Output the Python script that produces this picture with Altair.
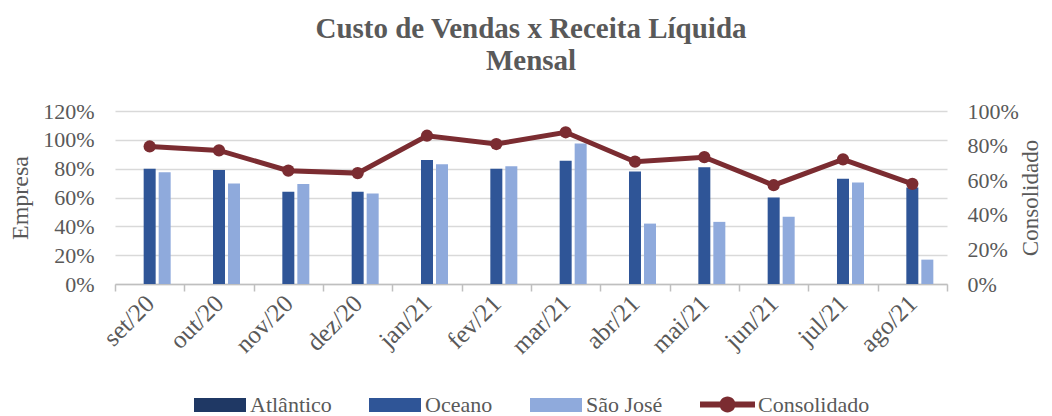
import altair as alt
import pandas as pd

months = ["set/20", "out/20", "nov/20", "dez/20", "jan/21", "fev/21",
          "mar/21", "abr/21", "mai/21", "jun/21", "jul/21", "ago/21"]
bar_series = ["Atlântico", "Oceano", "São José"]
atlantico = [None] * 12
oceano = [0.80, 0.79, 0.64, 0.64, 0.86, 0.80, 0.855, 0.78, 0.81, 0.60, 0.73, 0.67]
sao_jose = [0.776, 0.697, 0.693, 0.628, 0.83, 0.816, 0.974, 0.419, 0.431, 0.466, 0.704, 0.169]
consolidado = [0.795, 0.772, 0.655, 0.641, 0.857, 0.809, 0.877, 0.707, 0.733, 0.571, 0.72, 0.579]
left_ticks = [0, 0.2, 0.4, 0.6, 0.8, 1.0, 1.2]
right_ticks = [0, 0.2, 0.4, 0.6, 0.8, 1.0]

rows = []
for i, m in enumerate(months):
    for s, vals in zip(bar_series, [atlantico, oceano, sao_jose]):
        if vals[i] is not None:
            rows.append({"mes": m, "serie": s, "valor": vals[i]})
bars_df = pd.DataFrame(rows)
line_df = pd.DataFrame({"mes": months, "serie": ["Consolidado"] * 12, "valor": consolidado})

FONT = "Liberation Serif"
GRAY = "#595959"
RED = "#7B2C31"
BAR_COLORS = ["#1F3864", "#2F5597", "#8FAADC"]
RECT_PATH = "M-1,-0.27H1V0.27H-1Z"
LINE_PATH = ("M-1,-0.11H1V0.11H-1Z "
             "M-0.29,0A0.29,0.29 0 1,1 0.29,0A0.29,0.29 0 1,1 -0.29,0Z")

x_enc = alt.X(
    "mes:N", sort=months,
    scale=alt.Scale(paddingInner=0, paddingOuter=0),
    axis=alt.Axis(
        title=None, labelAngle=315, labelAlign="right", labelBaseline="middle",
        labelFont=FONT, labelFontSize=25, labelColor=GRAY, labelPadding=8,
        tickBand="extent", ticks=True, tickSize=7, tickColor="#BFBFBF", tickWidth=1.5,
        domainColor="#BFBFBF", domainWidth=1.5, grid=False,
    ),
)

bars = alt.Chart(bars_df).mark_bar().encode(
    x=x_enc,
    xOffset=alt.XOffset("serie:N", scale=alt.Scale(domain=bar_series, paddingInner=0.2, paddingOuter=0.911)),
    y=alt.Y("valor:Q", scale=alt.Scale(domain=[0, 1.2], nice=False),
            axis=alt.Axis(orient="left", values=left_ticks, format=".0%", title="Empresa",
                          grid=True, gridColor="#D9D9D9", gridWidth=1.5, domain=False,
                          ticks=False, tickSize=0, labelPadding=21, labelOverlap=False,
                          labelFont=FONT, labelFontSize=22, labelColor=GRAY,
                          titleFont=FONT, titleFontSize=24, titleFontWeight="normal",
                          titleColor=GRAY, titlePadding=10)),
    color=alt.Color("serie:N", scale=alt.Scale(domain=bar_series, range=BAR_COLORS),
                    legend=alt.Legend(title=None, orient="none", legendX=79, legendY=268,
                                      direction="horizontal", columns=3, padding=0,
                                      symbolType=RECT_PATH, symbolSize=2704,
                                      symbolStrokeWidth=0, symbolOpacity=1,
                                      labelFont=FONT, labelFontSize=22, labelColor=GRAY,
                                      labelOffset=4, columnPadding=37)),
)

right_axis = alt.Axis(orient="right", values=right_ticks, format=".0%", title="Consolidado",
                      grid=False, domain=False, ticks=False, tickSize=0, labelPadding=20,
                      labelOverlap=False,
                      labelFont=FONT, labelFontSize=22, labelColor=GRAY,
                      titleFont=FONT, titleFontSize=23, titleFontWeight="normal",
                      titleColor=GRAY, titlePadding=1, titleAngle=270,
                      titleBaseline="top")

line = alt.Chart(line_df).mark_line(color=RED, strokeWidth=5).encode(
    x=alt.X("mes:N", sort=months),
    y=alt.Y("valor:Q", scale=alt.Scale(domain=[0, 1], nice=False), axis=right_axis),
)
points = alt.Chart(line_df).mark_circle(size=150, opacity=1).encode(
    x=alt.X("mes:N", sort=months),
    y=alt.Y("valor:Q", scale=alt.Scale(domain=[0, 1], nice=False), axis=right_axis),
    fill=alt.Fill("serie:N", scale=alt.Scale(domain=["Consolidado"], range=[RED]),
                  legend=alt.Legend(title=None, orient="none", legendX=585, legendY=266, padding=0,
                                    symbolType=LINE_PATH, symbolSize=3025,
                                    symbolStrokeWidth=0, symbolOpacity=1,
                                    labelFont=FONT, labelFontSize=22, labelColor=GRAY,
                                    labelOffset=3)),
)

right = alt.layer(line, points)

chart = alt.layer(bars, right).resolve_scale(y="independent").properties(
    width=832, height=173,
    autosize=alt.AutoSizeParams(type="none"),
    padding={"left": 107, "top": 103, "right": 97, "bottom": 132},
    title=alt.TitleParams(text=["Custo de Vendas x Receita Líquida", "Mensal"],
                          font=FONT, fontSize=29, fontWeight="bold", color=GRAY,
                          lineHeight=32, anchor="middle", offset=24),
    background="white",
).configure_view(stroke=None)

chart.save("out.html", embed_options={"renderer": "svg", "actions": False})
